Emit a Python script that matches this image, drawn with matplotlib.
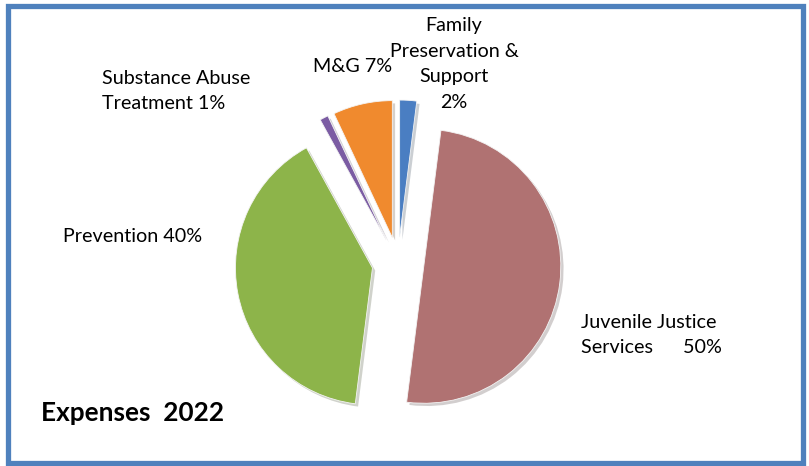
import matplotlib
matplotlib.use("Agg")
import matplotlib.pyplot as plt
import matplotlib.patheffects as pe

plt.rcParams['font.family'] = ['Lato', 'DejaVu Sans']

# expense shares in percent, drawn clockwise from 12 o'clock
categories = ['Family Preservation & Support', 'Juvenile Justice Services',
              'Prevention', 'Substance Abuse Treatment', 'M&G']
values = [2, 50, 40, 1, 7]
colors = ['#4A7EC2', '#B07272', '#8DB44A', '#7B5CA3', '#F08A2E']
title = 'Expenses  2022'

W, H = 809, 466
fig = plt.figure(figsize=(W / 100, H / 100), dpi=100)
ax = fig.add_axes([0, 0, 1, 1])

# pixel-like coordinates, y pointing up; explode is in the same units
cx, cy, r = 398, H - 263, 137
wedges, _ = ax.pie(values, colors=colors, startangle=90, counterclock=False,
                   explode=[26] * len(values), radius=r, center=(cx, cy),
                   wedgeprops=dict(linewidth=0.6, edgecolor='#f4f4f4'))
for w in wedges:
    w.set_path_effects([pe.SimplePatchShadow(offset=(2, -2), alpha=0.22),
                        pe.Normal()])

ax.set_xlim(0, W)
ax.set_ylim(0, H)
ax.set_aspect('equal')
ax.axis('off')

# blue frame around the chart area
frame = plt.Rectangle((8, 3), W - 14, H - 9, fill=False, edgecolor='#4F81BD',
                      linewidth=3.8)
ax.add_patch(frame)

fs = 14.2
ls = 1.62
ax.text(454, H - 64, f"Family\nPreservation &\nSupport\n{values[0]}%",
        ha='center', va='center', fontsize=fs, linespacing=ls)
ax.text(581, H - 335, f"Juvenile Justice\nServices      {values[1]}%",
        ha='left', va='center', fontsize=fs, linespacing=ls)
ax.text(63, H - 236, f"Prevention {values[2]}%",
        ha='left', va='center', fontsize=fs)
ax.text(102, H - 91, f"Substance Abuse\nTreatment {values[3]}%",
        ha='left', va='center', fontsize=fs, linespacing=ls)
ax.text(313, H - 67, f"M&G {values[4]}%",
        ha='left', va='center', fontsize=fs)

ax.text(41, H - 413, title, ha='left', va='center', fontsize=18.8,
        fontweight='bold')

fig.savefig('out.png', dpi=100)
